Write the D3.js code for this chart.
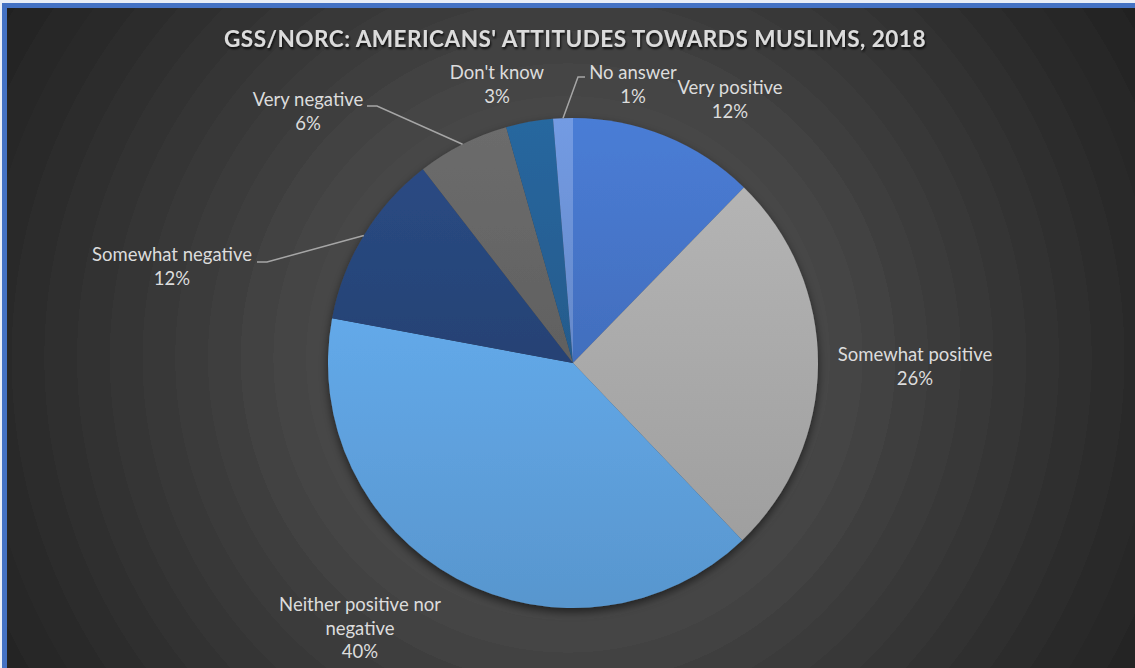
<!DOCTYPE html>
<html>
<head>
<meta charset="utf-8">
<script src="https://cdn.jsdelivr.net/npm/d3@7"></script>
<style>
  html, body { margin: 0; padding: 0; background: #e9eef7; }
  svg { display: block; }
</style>
</head>
<body>
<svg id="chart" width="1135" height="668"></svg>
<script>
// ---- data ----
const categories = ["Very positive", "Somewhat positive", "Neither positive nor negative",
                    "Somewhat negative", "Very negative", "Don't know", "No answer"];
const values = [12.3, 25.6, 40.1, 11.6, 6.1, 3.1, 1.3];
const labelLines = [["Very positive"], ["Somewhat positive"], ["Neither positive nor", "negative"],
                    ["Somewhat negative"], ["Very negative"], ["Don't know"], ["No answer"]];
const colors = ["#4472C4", "#A5A5A5", "#5B9BD5", "#264478", "#636363", "#255E91", "#698ED0"];
const title = "GSS/NORC: AMERICANS' ATTITUDES TOWARDS MUSLIMS, 2018";

// ---- layout ----
const W = 1135, H = 668;
const cx = 573, cy = 363, R = 245;
// label anchor (center x, first line center y) relative to pie center, leader elbow if any
const labelLayout = [
  {dx: 157, dy: -275},
  {dx: 342, dy: -8},
  {dx: -213, dy: 242},
  {dx: -401, dy: -108, elbow: [-306, -101], end: [-316, -101]},
  {dx: -265, dy: -263, elbow: [-196, -257], end: [-206, -257]},
  {dx: -76, dy: -290},
  {dx: 60, dy: -290, elbow: [5, -286], end: [12, -286]}
];

const svg = d3.select("#chart");
const defs = svg.append("defs");

// frame
svg.append("rect").attr("x", 2).attr("y", 3).attr("width", W).attr("height", H).attr("fill", "#4472C4");

// banded radial background
const bg = defs.append("radialGradient").attr("id", "bg")
  .attr("gradientUnits", "userSpaceOnUse").attr("cx", cx - 5).attr("cy", cy - 5).attr("r", 720);
const nBands = 22;
const bgColor = d3.scaleLinear().domain([0, 0.35, 0.6, 1]).range(["#505050", "#474747", "#363636", "#1e1e1e"]);
d3.range(nBands).forEach(i => {
  const c = bgColor(i / (nBands - 1));
  bg.append("stop").attr("offset", i / nBands).attr("stop-color", c);
  bg.append("stop").attr("offset", (i + 1) / nBands).attr("stop-color", c);
});
svg.append("rect").attr("x", 7).attr("y", 8).attr("width", W - 7).attr("height", H - 8).attr("fill", "url(#bg)");

// shadows
const sh = defs.append("filter").attr("id", "shadow").attr("x", "-20%").attr("y", "-20%").attr("width", "140%").attr("height", "140%");
sh.append("feDropShadow").attr("dx", 0).attr("dy", 4).attr("stdDeviation", 5).attr("flood-color", "#000").attr("flood-opacity", 0.55);
const tsh = defs.append("filter").attr("id", "tshadow").attr("x", "-10%").attr("y", "-50%").attr("width", "120%").attr("height", "200%");
tsh.append("feDropShadow").attr("dx", 1).attr("dy", 2).attr("stdDeviation", 1.2).attr("flood-color", "#000").attr("flood-opacity", 0.8);

// slice gradients
colors.forEach((c, i) => {
  const g = defs.append("linearGradient").attr("id", "sg" + i).attr("x1", 0).attr("y1", 0).attr("x2", 0).attr("y2", 1);
  g.append("stop").attr("offset", 0).attr("stop-color", d3.color(c).brighter(0.25));
  g.append("stop").attr("offset", 1).attr("stop-color", d3.color(c).darker(0.1));
});

// title
svg.append("text")
  .attr("x", 575).attr("y", 47)
  .attr("text-anchor", "middle")
  .attr("font-family", "Lato, 'Open Sans', sans-serif")
  .attr("font-weight", 700)
  .attr("font-size", 22.5)
  .attr("letter-spacing", 0.5)
  .attr("fill", "#dcdcdc")
  .attr("filter", "url(#tshadow)")
  .text(title);

// pie
const data = categories.map((c, i) => ({cat: c, value: values[i], idx: i}));
const pie = d3.pie().value(d => d.value).sort(null);
const arcs = pie(data);
const arc = d3.arc().innerRadius(0).outerRadius(R);
const total = d3.sum(values);

const g = svg.append("g").attr("transform", `translate(${cx},${cy})`);
g.append("g").attr("filter", "url(#shadow)")
  .selectAll("path").data(arcs).join("path")
  .attr("d", arc)
  .attr("fill", d => `url(#sg${d.data.idx})`);

// leader lines
arcs.forEach((a, i) => {
  const L = labelLayout[i];
  if (!L.elbow) return;
  const mid = (a.startAngle + a.endAngle) / 2;
  const p0 = [Math.sin(mid) * R, -Math.cos(mid) * R];
  g.append("polyline")
    .attr("points", [p0, L.elbow, L.end].map(p => p.join(",")).join(" "))
    .attr("fill", "none").attr("stroke", "#a6a6a6").attr("stroke-width", 1.5);
});

// labels
arcs.forEach((a, i) => {
  const L = labelLayout[i];
  const lines = labelLines[i].concat([Math.round(a.data.value / total * 100) + "%"]);
  const t = g.append("text")
    .attr("text-anchor", "middle")
    .attr("font-family", "Lato, 'Open Sans', sans-serif")
    .attr("font-size", 18.5)
    .attr("fill", "#dcdcdc");
  lines.forEach((ln, k) => {
    t.append("tspan").attr("x", L.dx).attr("y", L.dy + k * 23.5).attr("dy", "0.35em").text(ln);
  });
});
</script>
</body>
</html>
